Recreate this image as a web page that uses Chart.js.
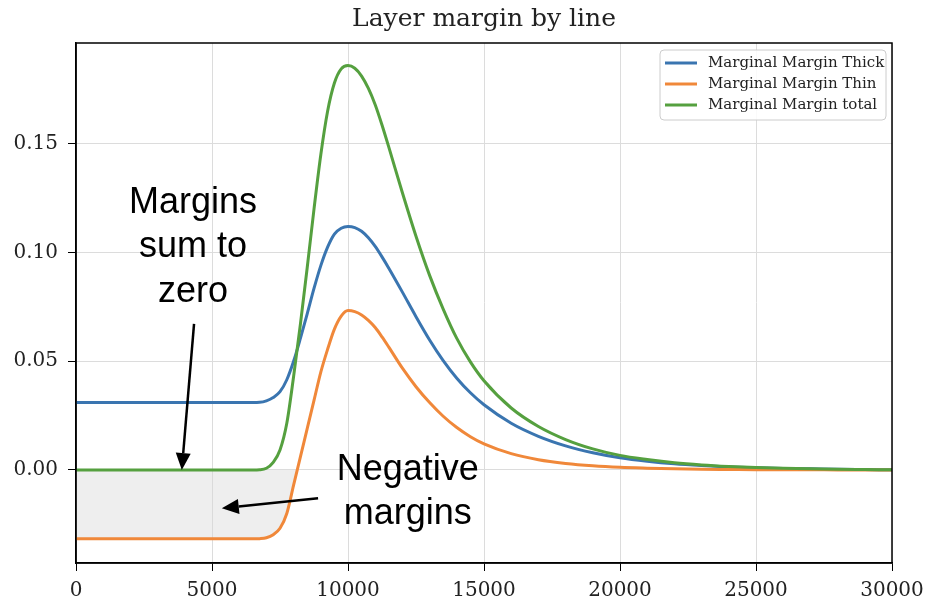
<!DOCTYPE html>
<html>
<head>
<meta charset="utf-8">
<title>Layer margin by line</title>
<script src="https://cdn.jsdelivr.net/npm/chart.js@4.4.1/dist/chart.umd.min.js"></script>
<style>
  html, body { margin: 0; padding: 0; background: #fff; }
  #wrap { width: 926px; height: 601px; }
</style>
</head>
<body>
<div id="wrap"><canvas id="margin_chart" width="926" height="601"></canvas></div>
<script>
//line number where each margin value was read
var line_x = [0, 1000, 2000, 3000, 4000, 5000, 6000,
              6500, 6750, 7000, 7250, 7500, 7750, 8000, 8250, 8500, 8750, 9000, 9250, 9500, 9750, 10000,
              10250, 10500, 10750, 11000, 11250, 11500,
              12000, 12500, 13000, 13500, 14000, 14500, 15000,
              16000, 17000, 18000, 19000, 20000, 21000, 22000, 23000, 24000, 25000, 26000, 27000, 28000, 29000, 30000];

//margin of the thick layer
var thick_margin = [0.031, 0.031, 0.031, 0.031, 0.031, 0.031, 0.031,
                    0.031, 0.0311, 0.0318, 0.0333, 0.036, 0.0415, 0.050, 0.0605, 0.0718, 0.0835, 0.094, 0.1025, 0.1085, 0.1112, 0.112,
                    0.1115, 0.1098, 0.1068, 0.1028, 0.098, 0.0928,
                    0.0818, 0.0705, 0.0598, 0.0503, 0.0422, 0.0355, 0.030,
                    0.0215, 0.0155, 0.0111, 0.0079, 0.0056, 0.0040, 0.0028, 0.0020, 0.0014, 0.0010, 0.0007, 0.0005, 0.0003, 0.0002, 0.0001];

//margin of the thin layer
var thin_margin = [-0.0317, -0.0317, -0.0317, -0.0317, -0.0317, -0.0317, -0.0317,
                   -0.0317, -0.0316, -0.0312, -0.0298, -0.0268, -0.020, -0.007, 0.006, 0.019, 0.032, 0.045, 0.0555, 0.0648, 0.0708, 0.0733,
                   0.0728, 0.0713, 0.0688, 0.0655, 0.0612, 0.0565,
                   0.0468, 0.0383, 0.031, 0.0247, 0.0195, 0.0153, 0.012,
                   0.0075, 0.0047, 0.0030, 0.0019, 0.0012, 0.0008, 0.0005, 0.0003, 0.0002, 0.0001, 0.0001, 0.0001, 0.0, 0.0, 0.0];

//total margin of both layers
var total_margin = [0.0, 0.0, 0.0, 0.0, 0.0, 0.0, 0.0,
                    0.0, 0.0001, 0.0008, 0.0035, 0.0092, 0.0215, 0.043, 0.067, 0.093, 0.120, 0.145, 0.165, 0.178, 0.1845, 0.186,
                    0.1848, 0.1812, 0.1755, 0.168, 0.1587, 0.1485,
                    0.1275, 0.1075, 0.0895, 0.074, 0.0605, 0.0497, 0.041,
                    0.0285, 0.020, 0.014, 0.0097, 0.0067, 0.0048, 0.0033, 0.0023, 0.0016, 0.0011, 0.0008, 0.0006, 0.0003, 0.0002, 0.0001];

var series_names = ['Marginal Margin Thick', 'Marginal Margin Thin', 'Marginal Margin total'];
var series_colors = ['#3a75b0', '#f0883a', '#55a03f'];

//tick labels of both axes
var x_ticks = [0, 5000, 10000, 15000, 20000, 25000, 30000];
var y_ticks = [0.00, 0.05, 0.10, 0.15];

//hand written notes on the plot, anchored in data units
var note_text = [['Margins', 'sum to', 'zero'], ['Negative', 'margins']];
var note_x = [4300, 12200];
var note_y = [0.1228, 0.0];
var arrow_from = [[4340, 0.0672], [8900, -0.0130]];
var arrow_to = [[3890, 0.0], [5360, -0.0176]];

var serif = "'DejaVu Serif', serif";
var sans = "'Liberation Sans', Arial, sans-serif";

//pair the x values with one series
function toPoints(xs, ys)
{
    var pts = [];
    for (var i = 0; i < xs.length; i++)
        pts.push({x: xs[i], y: ys[i]});
    return pts;
}

//draw an arrow with a filled head at the end point
function drawArrow(ctx, x1, y1, x2, y2)
{
    var ang = Math.atan2(y2 - y1, x2 - x1);
    var headLen = 17, headW = 7.5;
    var bx = x2 - headLen * Math.cos(ang), by = y2 - headLen * Math.sin(ang);
    ctx.beginPath();
    ctx.moveTo(x1, y1);
    ctx.lineTo(bx, by);
    ctx.stroke();
    ctx.beginPath();
    ctx.moveTo(x2, y2);
    ctx.lineTo(bx + headW * Math.sin(ang), by - headW * Math.cos(ang));
    ctx.lineTo(bx - headW * Math.sin(ang), by + headW * Math.cos(ang));
    ctx.closePath();
    ctx.fill();
}

//box path with round corners, for the legend frame
function roundBox(ctx, x, y, w, h, r)
{
    ctx.beginPath();
    ctx.moveTo(x + r, y);
    ctx.lineTo(x + w - r, y);
    ctx.arcTo(x + w, y, x + w, y + r, r);
    ctx.lineTo(x + w, y + h - r);
    ctx.arcTo(x + w, y + h, x + w - r, y + h, r);
    ctx.lineTo(x + r, y + h);
    ctx.arcTo(x, y + h, x, y + h - r, r);
    ctx.lineTo(x, y + r);
    ctx.arcTo(x, y, x + r, y, r);
    ctx.closePath();
}

//spines on all four sides, the notes and a legend inside the top right corner
var plotDecor = {
    id: 'plotDecor',
    afterDatasetsDraw: function(chart) {
        var ctx = chart.ctx;
        var area = chart.chartArea;
        var xs = chart.scales.x, ys = chart.scales.y;

        ctx.save();
        ctx.strokeStyle = '#000';
        ctx.lineWidth = 1.5;
        ctx.strokeRect(area.left, area.top, area.right - area.left, area.bottom - area.top);

        //notes
        ctx.fillStyle = '#000';
        ctx.strokeStyle = '#000';
        ctx.lineWidth = 2.5;
        ctx.font = '36px ' + sans;
        ctx.textAlign = 'center';
        ctx.textBaseline = 'middle';
        for (var n = 0; n < note_text.length; n++) {
            var cx = xs.getPixelForValue(note_x[n]);
            var cy = ys.getPixelForValue(note_y[n]);
            for (var l = 0; l < note_text[n].length; l++)
                ctx.fillText(note_text[n][l], cx, cy + l * 44.5);
            drawArrow(ctx,
                xs.getPixelForValue(arrow_from[n][0]), ys.getPixelForValue(arrow_from[n][1]),
                xs.getPixelForValue(arrow_to[n][0]), ys.getPixelForValue(arrow_to[n][1]));
        }

        //legend
        var boxW = 226, boxH = 70;
        var bx = area.right - 6 - boxW, by = area.top + 7;
        roundBox(ctx, bx, by, boxW, boxH, 4);
        ctx.fillStyle = 'rgba(255,255,255,0.85)';
        ctx.fill();
        ctx.strokeStyle = '#cccccc';
        ctx.lineWidth = 1;
        ctx.stroke();
        ctx.font = '15px ' + serif;
        ctx.textAlign = 'left';
        ctx.textBaseline = 'middle';
        chart.data.datasets.forEach(function(ds, i) {
            var ry = by + 13 + i * 21;
            ctx.strokeStyle = ds.borderColor;
            ctx.lineWidth = 3;
            ctx.beginPath();
            ctx.moveTo(bx + 5, ry);
            ctx.lineTo(bx + 37, ry);
            ctx.stroke();
            ctx.fillStyle = '#222';
            ctx.fillText(ds.label, bx + 48, ry);
        });
        ctx.restore();
    }
};

var datasets = [];
[thick_margin, thin_margin, total_margin].forEach(function(vals, i) {
    datasets.push({
        label: series_names[i],
        data: toPoints(line_x, vals),
        borderColor: series_colors[i],
        backgroundColor: series_colors[i],
        borderWidth: 3,
        pointRadius: 0,
        cubicInterpolationMode: 'monotone',
        order: 3 - i,
        fill: false
    });
});
//light grey shade where the thin margin goes negative
datasets[1].fill = {target: {value: 0}, above: 'rgba(0,0,0,0)', below: 'rgba(215,215,215,0.42)'};

var marginChart = new Chart(document.getElementById('margin_chart'), {
    type: 'line',
    data: {datasets: datasets},
    options: {
        responsive: false,
        animation: false,
        devicePixelRatio: 1,
        layout: {padding: {left: 0, right: 34, top: 0, bottom: 0}},
        plugins: {
            legend: {display: false},
            tooltip: {enabled: false},
            title: {
                display: true,
                fullSize: false,
                text: 'Layer margin by line',
                color: '#222',
                font: {family: serif, size: 25, weight: 'normal'},
                padding: {top: 4, bottom: 9}
            }
        },
        scales: {
            x: {
                type: 'linear',
                min: 0,
                max: 30000,
                afterBuildTicks: function(scale) {
                    scale.ticks = x_ticks.map(function(v) { return {value: v}; });
                },
                afterFit: function(scale) {
                    scale.height = 38;
                    //the last label may hang past the plot, keep the plot edge fixed
                    scale.paddingRight = 0;
                    scale.paddingLeft = 0;
                },
                grid: {color: '#dcdcdc', lineWidth: 1, tickColor: '#000', tickLength: 8},
                border: {display: true, color: '#000', width: 1.5},
                ticks: {
                    color: '#222',
                    padding: 8,
                    maxRotation: 0,
                    font: {family: serif, size: 20},
                    callback: function(v) { return String(v); }
                }
            },
            y: {
                type: 'linear',
                min: -0.0428,
                max: 0.1964,
                afterBuildTicks: function(scale) {
                    scale.ticks = y_ticks.map(function(v) { return {value: v}; });
                },
                afterFit: function(scale) { scale.width = 76; },
                grid: {color: '#dcdcdc', lineWidth: 1, tickColor: '#000', tickLength: 8},
                border: {display: true, color: '#000', width: 1.5},
                ticks: {
                    color: '#222',
                    padding: 10,
                    font: {family: serif, size: 20},
                    callback: function(v) { return v.toFixed(2); }
                }
            }
        }
    },
    plugins: [plotDecor]
});
</script>
</body>
</html>
